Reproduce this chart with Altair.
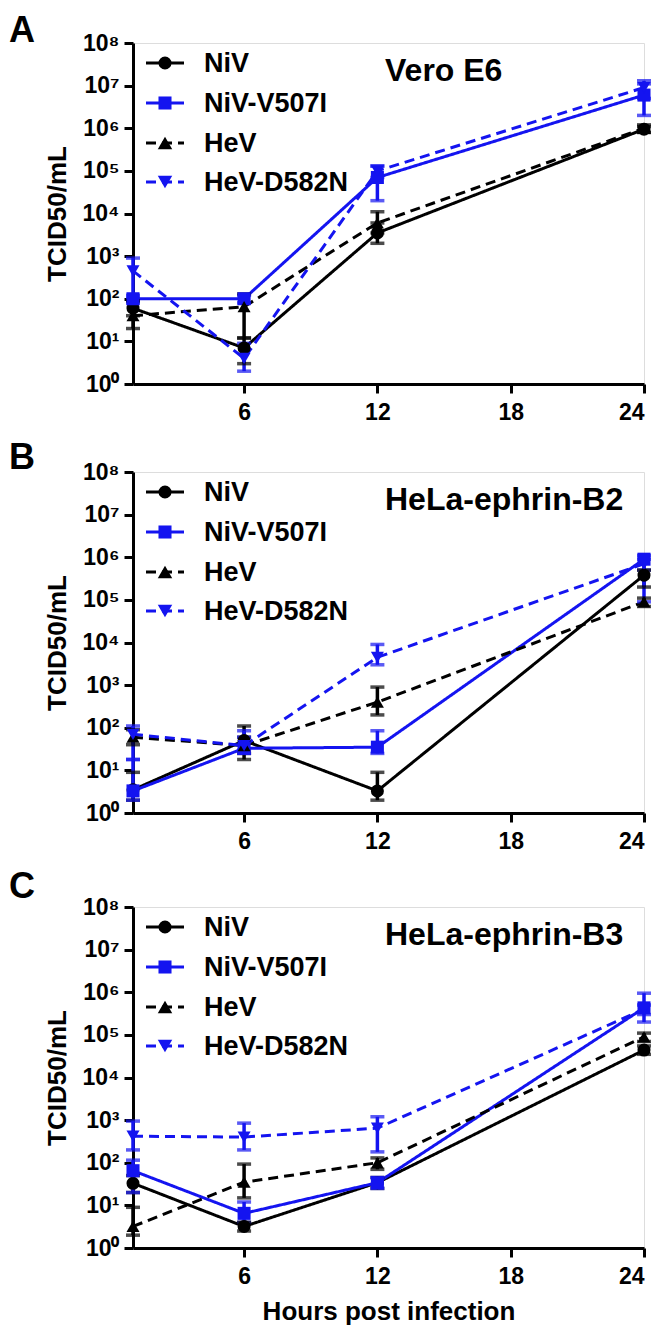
import altair as alt
import pandas as pd

hours = [1, 6, 12, 24]
series = ["NiV", "NiV-V507I", "HeV", "HeV-D582N"]
colors = ["#000000", "#1414f0", "#000000", "#1414f0"]
shapes = ["circle", "square", "triangle-up", "triangle-down"]
marker_sizes = [170, 170, 210, 210]
dashes = [[1, 0], [1, 0], [10, 6], [10, 6]]

panel_letters = ["A", "B", "C"]
panel_titles = ["Vero E6", "HeLa-ephrin-B2", "HeLa-ephrin-B3"]
y_ticks = [1, 10, 100, 1e3, 1e4, 1e5, 1e6, 1e7, 1e8]
x_ticks = [6, 12, 18, 24]

# Panel A: Vero E6
a_niv = [60, 7, 3500, 9.5e5]
a_niv_lo = [40, 3, 2000, 8e5]
a_niv_hi = [90, 12, 6000, 1.1e6]
a_v507i = [100, 100, 7e4, 6e6]
a_v507i_lo = [80, 80, 2e4, 2e6]
a_v507i_hi = [120, 120, 1.3e5, 1.1e7]
a_hev = [40, 65, 6000, 1e6]
a_hev_lo = [20, 12, 3500, 8e5]
a_hev_hi = [90, 130, 1.1e4, 1.2e6]
a_d582n = [450, 4, 1e5, 9e6]
a_d582n_lo = [100, 2, 7e4, 5e6]
a_d582n_hi = [900, 9, 1.3e5, 1.3e7]

# Panel B: HeLa-ephrin-B2
b_niv = [3.5, 50, 3.3, 3.8e5]
b_niv_lo = [2, 25, 2, 2e5]
b_niv_hi = [9, 110, 9, 5e5]
b_v507i = [3.3, 33, 35, 9e5]
b_v507i_lo = [2, 25, 25, 9e4]
b_v507i_hi = [18, 85, 85, 1.1e6]
b_hev = [60, 38, 400, 9e4]
b_hev_lo = [40, 18, 200, 7e4]
b_hev_hi = [90, 60, 900, 1.1e5]
b_d582n = [70, 38, 4500, 7e5]
b_d582n_lo = [18, 30, 3000, 5e5]
b_d582n_hi = [110, 60, 9000, 9e5]

# Panel C: HeLa-ephrin-B3
c_niv = [33, 3.2, 34, 4.4e4]
c_niv_lo = [20, 2.5, 25, 3.5e4]
c_niv_hi = [50, 4, 45, 5.5e4]
c_v507i = [65, 6.5, 34, 4.3e5]
c_v507i_lo = [20, 4, 25, 2e5]
c_v507i_hi = [115, 12, 45, 9.5e5]
c_hev = [3.2, 35, 100, 9e4]
c_hev_lo = [2, 15, 70, 7e4]
c_hev_hi = [9, 93, 130, 1.1e5]
c_d582n = [420, 400, 650, 4e5]
c_d582n_lo = [200, 200, 180, 3e5]
c_d582n_hi = [950, 850, 1200, 5e5]

panels = [
    [(a_niv, a_niv_lo, a_niv_hi), (a_v507i, a_v507i_lo, a_v507i_hi),
     (a_hev, a_hev_lo, a_hev_hi), (a_d582n, a_d582n_lo, a_d582n_hi)],
    [(b_niv, b_niv_lo, b_niv_hi), (b_v507i, b_v507i_lo, b_v507i_hi),
     (b_hev, b_hev_lo, b_hev_hi), (b_d582n, b_d582n_lo, b_d582n_hi)],
    [(c_niv, c_niv_lo, c_niv_hi), (c_v507i, c_v507i_lo, c_v507i_hi),
     (c_hev, c_hev_lo, c_hev_hi), (c_d582n, c_d582n_lo, c_d582n_hi)],
]

FONT = "Liberation Sans"
W, H = 511, 341
legend_rows = [20, 60, 100, 139]
letter_y = [-1, -3, -9]

color_enc = alt.Color("series:N", scale=alt.Scale(domain=series, range=colors), legend=None)
dash_enc = alt.StrokeDash("series:N", scale=alt.Scale(domain=series, range=dashes), legend=None)
shape_enc = alt.Shape("series:N", scale=alt.Scale(domain=series, range=shapes), legend=None)
size_enc = alt.Size("series:N", scale=alt.Scale(domain=series, range=marker_sizes), legend=None)

sup = "['\u2070','\u00b9','\u00b2','\u00b3','\u2074','\u2075','\u2076','\u2077','\u2078']"


def make_panel(idx):
    rows = []
    for s, (vals, lo, hi) in zip(series, panels[idx]):
        for h, v, l, u in zip(hours, vals, lo, hi):
            rows.append({"series": s, "hour": h, "value": v, "lo": l, "hi": u})
    df = pd.DataFrame(rows)

    xtitle = "Hours post infection" if idx == 2 else None
    x_axis = alt.Axis(values=x_ticks, title=xtitle, grid=False, domainWidth=3, domainColor="black",
                      tickWidth=3, tickColor="black", tickSize=9, labelPadding=8,
                      labelFont=FONT, labelFontSize=23, labelFontWeight="bold", labelColor="black",
                      titleFont=FONT, titleFontSize=26, titleFontWeight="bold", titleColor="black",
                      titlePadding=10)
    x_enc = alt.X("hour:Q", scale=alt.Scale(domain=[1, 24], nice=False, zero=False), axis=x_axis)

    def y_enc(field):
        return alt.Y(f"{field}:Q",
                     scale=alt.Scale(type="log", domain=[1, 1e8], nice=False),
                     axis=alt.Axis(values=y_ticks, title="TCID50/mL", grid=False,
                                   labelExpr="'10' + " + sup + "[round(log(datum.value)/LN10)]",
                                   domainWidth=3, domainColor="black", tickWidth=3, tickColor="black",
                                   tickSize=9, labelPadding=5, labelFont=FONT, labelFontSize=23,
                                   labelFontWeight="bold", labelColor="black",
                                   titleFont=FONT, titleFontSize=26, titleFontWeight="bold",
                                   titleColor="black", titlePadding=12))

    base = alt.Chart(df)
    bars = base.mark_rule(strokeWidth=3.5).encode(x=x_enc, y=y_enc("lo"), y2="hi:Q", color=color_enc)
    cap_lo = base.mark_tick(orient="horizontal", size=14, thickness=3.5).encode(
        x=x_enc, y=y_enc("lo"), color=color_enc)
    cap_hi = base.mark_tick(orient="horizontal", size=14, thickness=3.5).encode(
        x=x_enc, y=y_enc("hi"), color=color_enc)
    lines = base.mark_line(strokeWidth=3).encode(
        x=x_enc, y=y_enc("value"), color=color_enc, strokeDash=dash_enc, detail="series:N")
    points = base.mark_point(filled=True, opacity=1).encode(
        x=x_enc, y=y_enc("value"), color=color_enc, shape=shape_enc, size=size_enc)

    layers = [lines, bars, cap_lo, cap_hi, points]

    for i, s in enumerate(series):
        ldf = pd.DataFrame({"label": [s]})
        ry = legend_rows[i]
        lc = alt.Chart(ldf)
        layers.append(lc.mark_rule(color=colors[i], strokeWidth=3, strokeDash=dashes[i]).encode(
            x=alt.value(13), x2=alt.value(51), y=alt.value(ry)))
        layers.append(lc.mark_point(filled=True, opacity=1, size=marker_sizes[i], shape=shapes[i],
                                    color=colors[i]).encode(x=alt.value(32), y=alt.value(ry)))
        layers.append(lc.mark_text(align="left", baseline="middle", font=FONT, fontSize=27,
                                   fontWeight="bold", color="black").encode(
            x=alt.value(71), y=alt.value(ry + 1), text="label:N"))

    tdf = pd.DataFrame({"label": [panel_titles[idx]]})
    layers.append(alt.Chart(tdf).mark_text(align="left", baseline="alphabetic", font=FONT, fontSize=32,
                                           fontWeight="bold", color="black").encode(
        x=alt.value(252), y=alt.value(38), text="label:N"))
    ldf2 = pd.DataFrame({"label": [panel_letters[idx]]})
    layers.append(alt.Chart(ldf2).mark_text(align="left", baseline="alphabetic", font=FONT, fontSize=36,
                                            fontWeight="bold", color="black").encode(
        x=alt.value(-124), y=alt.value(letter_y[idx]), text="label:N"))

    return alt.layer(*layers).properties(width=W, height=H)


chart = alt.vconcat(make_panel(0), make_panel(1), make_panel(2), spacing=14).properties(
    padding={"left": 0, "top": 4, "right": 0, "bottom": 0}
).configure_view(stroke=None).configure(background="white")

chart.save("out.html", embed_options={"renderer": "svg", "actions": False})
